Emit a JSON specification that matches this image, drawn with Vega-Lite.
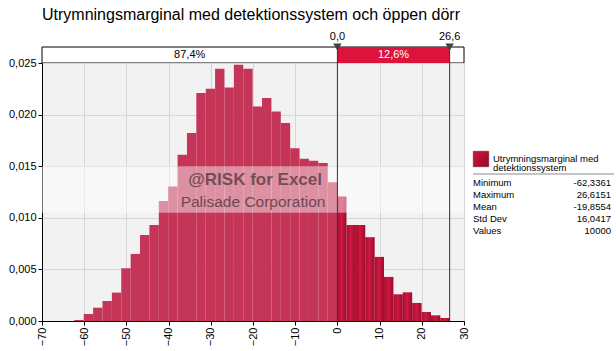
{
  "$schema": "https://vega.github.io/schema/vega-lite/v6.json",
  "background": "white",
  "padding": {"left": 8, "top": 7, "right": 0, "bottom": 0},
  "autosize": {"type": "pad"},
  "spacing": 3,
  "config": {
    "font": "Liberation Sans",
    "view": {"stroke": null},
    "axis": {
      "labelFont": "Liberation Sans",
      "labelFontSize": 11,
      "labelColor": "#000000",
      "domainColor": "#000000",
      "tickColor": "#000000",
      "gridColor": "#d6d6d6",
      "tickSize": 4,
      "labelPadding": 2,
      "title": null
    }
  },
  "datasets": {
    "hist": [
      {"x0": -62.34, "x1": -60.11, "density": 0.0001, "region": "left"},
      {"x0": -60.11, "x1": -57.89, "density": 0.00068, "region": "left"},
      {"x0": -57.89, "x1": -55.67, "density": 0.00129, "region": "left"},
      {"x0": -55.67, "x1": -53.44, "density": 0.00194, "region": "left"},
      {"x0": -53.44, "x1": -51.22, "density": 0.00275, "region": "left"},
      {"x0": -51.22, "x1": -48.99, "density": 0.00511, "region": "left"},
      {"x0": -48.99, "x1": -46.77, "density": 0.0065, "region": "left"},
      {"x0": -46.77, "x1": -44.55, "density": 0.00834, "region": "left"},
      {"x0": -44.55, "x1": -42.32, "density": 0.00931, "region": "left"},
      {"x0": -42.32, "x1": -40.10, "density": 0.01164, "region": "left"},
      {"x0": -40.10, "x1": -37.87, "density": 0.01303, "region": "left"},
      {"x0": -37.87, "x1": -35.65, "density": 0.0161, "region": "left"},
      {"x0": -35.65, "x1": -33.43, "density": 0.01821, "region": "left"},
      {"x0": -33.43, "x1": -31.20, "density": 0.02209, "region": "left"},
      {"x0": -31.20, "x1": -28.98, "density": 0.02251, "region": "left"},
      {"x0": -28.98, "x1": -26.76, "density": 0.02445, "region": "left"},
      {"x0": -26.76, "x1": -24.53, "density": 0.02263, "region": "left"},
      {"x0": -24.53, "x1": -22.31, "density": 0.02484, "region": "left"},
      {"x0": -22.31, "x1": -20.08, "density": 0.02445, "region": "left"},
      {"x0": -20.08, "x1": -17.86, "density": 0.02079, "region": "left"},
      {"x0": -17.86, "x1": -15.64, "density": 0.0216, "region": "left"},
      {"x0": -15.64, "x1": -13.41, "density": 0.0203, "region": "left"},
      {"x0": -13.41, "x1": -11.19, "density": 0.01918, "region": "left"},
      {"x0": -11.19, "x1": -8.96, "density": 0.01675, "region": "left"},
      {"x0": -8.96, "x1": -6.74, "density": 0.01572, "region": "left"},
      {"x0": -6.74, "x1": -4.52, "density": 0.01552, "region": "left"},
      {"x0": -4.52, "x1": -2.29, "density": 0.0153, "region": "left"},
      {"x0": -2.29, "x1": 0, "density": 0.01345, "region": "left"},
      {"x0": 0, "x1": 2.15, "density": 0.01206, "region": "right"},
      {"x0": 2.15, "x1": 4.38, "density": 0.00931, "region": "right"},
      {"x0": 4.38, "x1": 6.60, "density": 0.00931, "region": "right"},
      {"x0": 6.60, "x1": 8.83, "density": 0.00812, "region": "right"},
      {"x0": 8.83, "x1": 11.05, "density": 0.00621, "region": "right"},
      {"x0": 11.05, "x1": 13.27, "density": 0.00427, "region": "right"},
      {"x0": 13.27, "x1": 15.50, "density": 0.00259, "region": "right"},
      {"x0": 15.50, "x1": 17.72, "density": 0.00278, "region": "right"},
      {"x0": 17.72, "x1": 19.94, "density": 0.00175, "region": "right"},
      {"x0": 19.94, "x1": 22.17, "density": 0.00087, "region": "right"},
      {"x0": 22.17, "x1": 24.39, "density": 0.00055, "region": "right"},
      {"x0": 24.39, "x1": 26.62, "density": 0.00029, "region": "right"}
    ],
    "split": [
      {"from": -70, "to": 0, "pct": "87,4%", "region": "left"},
      {"from": 0, "to": 26.6, "pct": "12,6%", "region": "right"}
    ],
    "markers": [
      {"value": 0, "label": "0,0"},
      {"value": 26.6, "label": "26,6"}
    ],
    "stats": [
      {"label": "Minimum", "value": "-62,3361", "row": 1},
      {"label": "Maximum", "value": "26,6151", "row": 2},
      {"label": "Mean", "value": "-19,8554", "row": 3},
      {"label": "Std Dev", "value": "16,0417", "row": 4},
      {"label": "Values", "value": "10000", "row": 5}
    ]
  },
  "resolve": {"scale": {"x": "independent", "y": "independent"}},
  "hconcat": [
    {
      "vconcat": [
        {
          "width": 422,
          "height": 16,
          "title": {
            "text": "Utrymningsmarginal med detektionssystem och öppen dörr",
            "anchor": "start",
            "frame": "group",
            "font": "Liberation Sans",
            "fontSize": 16,
            "fontWeight": "normal",
            "color": "#000000",
            "offset": 8
          },
          "layer": [
            {
              "data": {"values": [{"a": 1}]},
              "mark": {"type": "rect", "fill": "white", "stroke": "#000000", "strokeWidth": 1},
              "encoding": {
                "x": {"datum": -70, "type": "quantitative", "scale": {"domain": [-70, 30], "nice": false, "zero": false}, "axis": null},
                "x2": {"datum": 30},
                "y": {"datum": 0, "type": "quantitative", "scale": {"domain": [0, 1], "nice": false}, "axis": null},
                "y2": {"datum": 1}
              }
            },
            {
              "data": {"name": "split"},
              "transform": [{"filter": "datum.region === 'right'"}],
              "mark": {"type": "rect", "fill": "#dc143c"},
              "encoding": {
                "x": {"field": "from", "type": "quantitative"},
                "x2": {"field": "to"},
                "y": {"datum": 0, "type": "quantitative"},
                "y2": {"datum": 1}
              }
            },
            {
              "data": {"name": "split"},
              "transform": [{"calculate": "(datum.from + datum.to) / 2", "as": "mid"}],
              "mark": {"type": "text", "font": "Liberation Sans", "fontSize": 11, "baseline": "middle", "align": "center"},
              "encoding": {
                "x": {"field": "mid", "type": "quantitative"},
                "y": {"datum": 0.5, "type": "quantitative"},
                "text": {"field": "pct"},
                "color": {"condition": {"test": "datum.region === 'right'", "value": "#ffffff"}, "value": "#000000"}
              }
            },
            {
              "data": {"name": "markers"},
              "mark": {"type": "rule", "color": "#333333", "strokeWidth": 1},
              "encoding": {
                "x": {"field": "value", "type": "quantitative"},
                "y": {"datum": 0, "type": "quantitative"},
                "y2": {"datum": 1}
              }
            },
            {
              "data": {"name": "markers"},
              "mark": {"type": "point", "shape": "triangle-down", "filled": true, "size": 70, "color": "#404040", "opacity": 1},
              "encoding": {
                "x": {"field": "value", "type": "quantitative"},
                "y": {"datum": 1, "type": "quantitative"}
              }
            },
            {
              "data": {"name": "markers"},
              "mark": {"type": "text", "font": "Liberation Sans", "fontSize": 11, "baseline": "alphabetic", "align": "center", "dy": -7, "color": "#000000"},
              "encoding": {
                "x": {"field": "value", "type": "quantitative"},
                "y": {"datum": 1, "type": "quantitative"},
                "text": {"field": "label"}
              }
            }
          ]
        },
        {
          "width": 422,
          "height": 258,
          "view": {"fill": "#f2f2f2", "stroke": null},
          "layer": [
            {
              "data": {"name": "hist"},
              "transform": [{"filter": "datum.region === 'left'"}],
              "mark": {"type": "rect", "fill": "#c43558"},
              "encoding": {
                "x": {"field": "x0", "type": "quantitative", "scale": {"domain": [-70, 30], "nice": false, "zero": false},
                  "axis": {"values": [-70, -60, -50, -40, -30, -20, -10, 0, 10, 20, 30], "labelAngle": -90, "grid": true}},
                "x2": {"field": "x1"},
                "y": {"field": "density", "type": "quantitative", "scale": {"domain": [0, 0.025], "nice": false},
                  "axis": {"values": [0, 0.005, 0.01, 0.015, 0.02, 0.025], "grid": true, "labelExpr": "replace(format(datum.value, '.3f'), '.', ',')"}},
                "y2": {"datum": 0}
              }
            },
            {
              "data": {"name": "hist"},
              "transform": [{"filter": "datum.region === 'right'"}],
              "mark": {
                "type": "rect",
                "fill": {"gradient": "linear", "x1": 0, "y1": 0, "x2": 1, "y2": 0,
                  "stops": [{"offset": 0, "color": "#a30e31"}, {"offset": 0.45, "color": "#d01840"}, {"offset": 1, "color": "#9a0c2d"}]}
              },
              "encoding": {
                "x": {"field": "x0", "type": "quantitative"},
                "x2": {"field": "x1"},
                "y": {"field": "density", "type": "quantitative"},
                "y2": {"datum": 0}
              }
            },
            {
              "data": {"values": [{"a": 1}]},
              "mark": {"type": "rect", "fill": "#ffffff", "opacity": 0.45},
              "encoding": {
                "x": {"datum": -70, "type": "quantitative"},
                "x2": {"datum": 30},
                "y": {"datum": 0.0105, "type": "quantitative"},
                "y2": {"datum": 0.015}
              }
            },
            {
              "data": {"values": [{"a": 1}]},
              "mark": {"type": "text", "text": "@RISK for Excel", "font": "Liberation Sans", "fontSize": 17, "fontWeight": "bold", "align": "center", "baseline": "middle", "color": "#3a2a2e", "opacity": 0.65},
              "encoding": {
                "x": {"datum": -19.5, "type": "quantitative"},
                "y": {"datum": 0.01368, "type": "quantitative"}
              }
            },
            {
              "data": {"values": [{"a": 1}]},
              "mark": {"type": "text", "text": "Palisade Corporation", "font": "Liberation Sans", "fontSize": 15.5, "align": "center", "baseline": "middle", "color": "#3a2a2e", "opacity": 0.7},
              "encoding": {
                "x": {"datum": -20, "type": "quantitative"},
                "y": {"datum": 0.01154, "type": "quantitative"}
              }
            },
            {
              "data": {"name": "markers"},
              "mark": {"type": "rule", "color": "#333333", "strokeWidth": 1},
              "encoding": {
                "x": {"field": "value", "type": "quantitative"}
              }
            }
          ]
        }
      ],
      "spacing": 0,
      "bounds": "flush",
      "resolve": {"scale": {"x": "independent", "y": "independent"}}
    },
    {
      "width": 141,
      "height": 276,
      "layer": [
        {
          "data": {"values": [{"a": 1}]},
          "mark": {"type": "point", "shape": "square", "filled": true, "size": 240, "xOffset": 8, "opacity": 1,
            "fill": {"gradient": "linear", "x1": 0, "y1": 0, "x2": 1, "y2": 1,
              "stops": [{"offset": 0, "color": "#d01840"}, {"offset": 1, "color": "#8e0a28"}]},
            "stroke": "#6a0a20", "strokeWidth": 0.5},
          "encoding": {
            "x": {"datum": 0, "type": "quantitative", "scale": {"domain": [0, 1], "nice": false}, "axis": null},
            "y": {"datum": -1, "type": "quantitative", "scale": {"domain": [-10.333, 12.667], "nice": false, "zero": false, "reverse": true}, "axis": null}
          }
        },
        {
          "data": {"values": [{"a": 1}]},
          "mark": {"type": "text", "text": ["Utrymningsmarginal med", "detektionssystem"], "font": "Liberation Sans", "fontSize": 9.5, "lineHeight": 9.5, "align": "left", "baseline": "middle", "dx": 20, "color": "#000000"},
          "encoding": {
            "x": {"datum": 0, "type": "quantitative"},
            "y": {"datum": -1, "type": "quantitative"}
          }
        },
        {
          "data": {"values": [{"a": 1}]},
          "mark": {"type": "rule", "color": "#8a8a8a", "strokeWidth": 1},
          "encoding": {
            "x": {"datum": 0, "type": "quantitative"},
            "x2": {"datum": 1},
            "y": {"datum": 0.25, "type": "quantitative"}
          }
        },
        {
          "data": {"name": "stats"},
          "mark": {"type": "text", "font": "Liberation Sans", "fontSize": 9.5, "align": "left", "baseline": "middle", "color": "#000000"},
          "encoding": {
            "x": {"datum": 0, "type": "quantitative"},
            "y": {"field": "row", "type": "quantitative"},
            "text": {"field": "label"}
          }
        },
        {
          "data": {"name": "stats"},
          "mark": {"type": "text", "font": "Liberation Sans", "fontSize": 9.5, "align": "right", "baseline": "middle", "dx": -3, "color": "#000000"},
          "encoding": {
            "x": {"datum": 1, "type": "quantitative"},
            "y": {"field": "row", "type": "quantitative"},
            "text": {"field": "value"}
          }
        }
      ]
    }
  ]
}
